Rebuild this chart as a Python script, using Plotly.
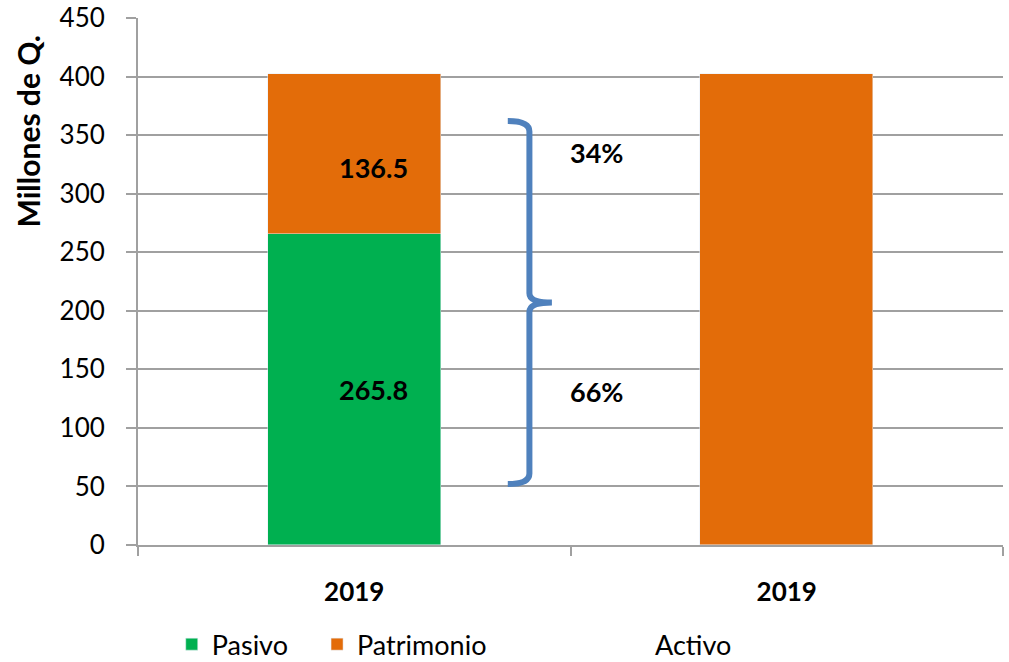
import plotly.graph_objects as go

categories = ["2019", "2019"]
pasivo = [265.8, None]
patrimonio = [136.5, None]
activo = [None, 402.3]
pct_labels = ["34%", "66%"]

GREEN = "#00B050"
ORANGE = "#E36C09"
BLUE = "#4F81BD"
GRID = "#A0A0A0"
FONT = "Lato, 'Open Sans', sans-serif"

xpos = [0, 1]

fig = go.Figure()
fig.add_trace(go.Bar(x=xpos, y=pasivo, name="Pasivo", marker_color=GREEN, width=0.4,
                     legend="legend"))
fig.add_trace(go.Bar(x=xpos, y=patrimonio, name="Patrimonio", marker_color=ORANGE, width=0.4,
                     legend="legend2"))
fig.add_trace(go.Bar(x=xpos, y=activo, name="Activo", marker_color=ORANGE, width=0.4,
                     showlegend=False))
# legend entry for Activo without a swatch
fig.add_trace(go.Scatter(x=[None], y=[None], mode="markers", name="Activo",
                         marker=dict(color="rgba(0,0,0,0)", size=0.1,
                                     line=dict(width=0, color="rgba(0,0,0,0)")),
                         legend="legend3"))

# bar value labels
fig.add_annotation(x=0, y=pasivo[0] / 2, text=f"<b>{pasivo[0]:.1f}</b>", showarrow=False,
                   xshift=19, font=dict(size=27, color="black", family=FONT))
fig.add_annotation(x=0, y=pasivo[0] + patrimonio[0] / 2 - 12, text=f"<b>{patrimonio[0]:.1f}</b>",
                   showarrow=False, xshift=19, font=dict(size=27, color="black", family=FONT))

# percentage labels
fig.add_annotation(x=0.56, y=335, text=f"<b>{pct_labels[0]}</b>", showarrow=False,
                   font=dict(size=27, color="black", family=FONT))
fig.add_annotation(x=0.56, y=131, text=f"<b>{pct_labels[1]}</b>", showarrow=False,
                   font=dict(size=27, color="black", family=FONT))

# brace
x0, xv, xt = 0.355, 0.405, 0.457
yt, ym, yb = 361, 207, 53
d = 8
path = (f"M {x0},{yt+1} Q {xv},{yt+1} {xv},{yt-d} "
        f"L {xv},{ym+d} Q {xv},{ym} {xt},{ym} "
        f"Q {xv},{ym} {xv},{ym-d} "
        f"L {xv},{yb+d} Q {xv},{yb-1} {x0},{yb-1}")
fig.add_shape(type="path", path=path, xref="x", yref="y",
              line=dict(color=BLUE, width=6))

# y-axis title
fig.add_annotation(xref="paper", yref="paper", x=-0.127, y=0.785, text="<b>Millones de Q.</b>",
                   textangle=-90, showarrow=False, xanchor="center", yanchor="middle",
                   font=dict(size=30, color="black", family=FONT))

leg_common = dict(orientation="h", xanchor="left", y=-0.189, yanchor="middle",
                  font=dict(size=27, color="black", family=FONT), itemwidth=30,
                  bgcolor="rgba(0,0,0,0)")

fig.update_layout(
    barmode="stack",
    width=1009, height=662,
    margin=dict(l=138, r=6, t=18, b=117, autoexpand=False),
    plot_bgcolor="white", paper_bgcolor="white",
    font=dict(family=FONT, size=26, color="black"),
    legend=dict(x=0.039, **leg_common),
    legend2=dict(x=0.207, **leg_common),
    legend3=dict(x=0.5514, **leg_common),
    bargap=0,
)

fig.update_xaxes(
    range=[-0.5, 1.5], tickvals=xpos, ticktext=[f"<b>{c}</b>" for c in categories],
    ticks="", showgrid=False, showline=True, linecolor=GRID, linewidth=2,
    tickfont=dict(size=26, color="black", family=FONT), ticklabelstandoff=23,
    minor=dict(tickvals=[-0.5, 0.5, 1.5], ticks="outside", ticklen=9, tickcolor=GRID,
               tickwidth=2, showgrid=False),
    zeroline=False, automargin=False,
)
fig.update_yaxes(
    range=[0, 450], dtick=50, showgrid=True, gridcolor=GRID, gridwidth=2,
    showline=True, linecolor=GRID, linewidth=2, ticks="outside", ticklen=10,
    tickcolor=GRID, tickwidth=2, tickfont=dict(size=26, color="black", family=FONT),
    ticklabelstandoff=16, zeroline=False, automargin=False,
)

fig.write_html(
    "out.html",
    config={"displayModeBar": False},
    post_script="document.body.style.margin='0';document.body.style.overflow='hidden';",
)
